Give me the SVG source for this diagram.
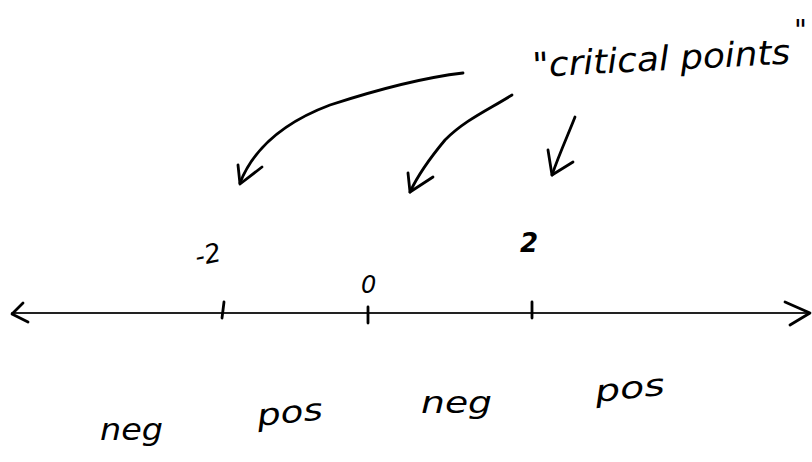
<svg xmlns="http://www.w3.org/2000/svg" width="812" height="462" viewBox="0 0 812 462">
<style>
.ink{fill:none;stroke:#000;stroke-width:2.8;stroke-linecap:round;stroke-linejoin:round}
.thin{fill:none;stroke:#222;stroke-width:1.8;stroke-linecap:round;stroke-linejoin:round}
.hand{font-family:"DejaVu Sans","Liberation Sans",sans-serif;font-style:italic;fill:#000}
</style>
<rect width="812" height="462" fill="#fff"/>
<g id="label-critical">
<text class="hand" x="533" y="77" font-size="34" textLength="258" lengthAdjust="spacingAndGlyphs" transform="rotate(-3 533 77)">"critical points</text>
<text class="hand" x="794" y="40" font-size="28">"</text>
</g>
<g id="connectors">
<path class="ink" d="M463,73 C420,78 370,92 330,105 C290,120 255,145 240,183"/>
<path class="ink" d="M238,165 L240,184 L262,167"/>
<path class="ink" d="M512,95 C488,110 465,120 445,140 C430,158 418,175 410,192"/>
<path class="ink" d="M408,173 L410,192 L433,177"/>
<path class="ink" d="M575,117 C568,135 560,152 552,175"/>
<path class="ink" d="M548,150 L552,175 L573,162"/>
</g>
<g id="number-line">
<path class="thin" d="M12,313 L809,313"/>
<path class="ink" d="M23,303 L12,314 L28,322"/>
<path class="ink" d="M785,302 L810,313 L790,325"/>
<path class="ink" d="M224,302 L222,318"/>
<path class="ink" d="M368,307 L368,323"/>
<path class="ink" d="M532,302 L532,318"/>
</g>
<g id="tick-labels">
<text class="hand" x="197" y="266" font-size="26" transform="rotate(-12 197 266)">-2</text>
<text class="hand" x="361" y="293" font-size="24">0</text>
<text class="hand" x="520" y="252" font-size="26" font-weight="bold">2</text>
</g>
<g id="sign-labels">
<text class="hand" x="100" y="440" font-size="30" textLength="63" lengthAdjust="spacingAndGlyphs">neg</text>
<text class="hand" x="258" y="426" font-size="30" textLength="66" lengthAdjust="spacingAndGlyphs" transform="rotate(-6 258 426)">pos</text>
<text class="hand" x="421" y="413" font-size="30" textLength="71" lengthAdjust="spacingAndGlyphs">neg</text>
<text class="hand" x="596" y="402" font-size="30" textLength="70" lengthAdjust="spacingAndGlyphs" transform="rotate(-6 596 402)">pos</text>
</g>
</svg>
